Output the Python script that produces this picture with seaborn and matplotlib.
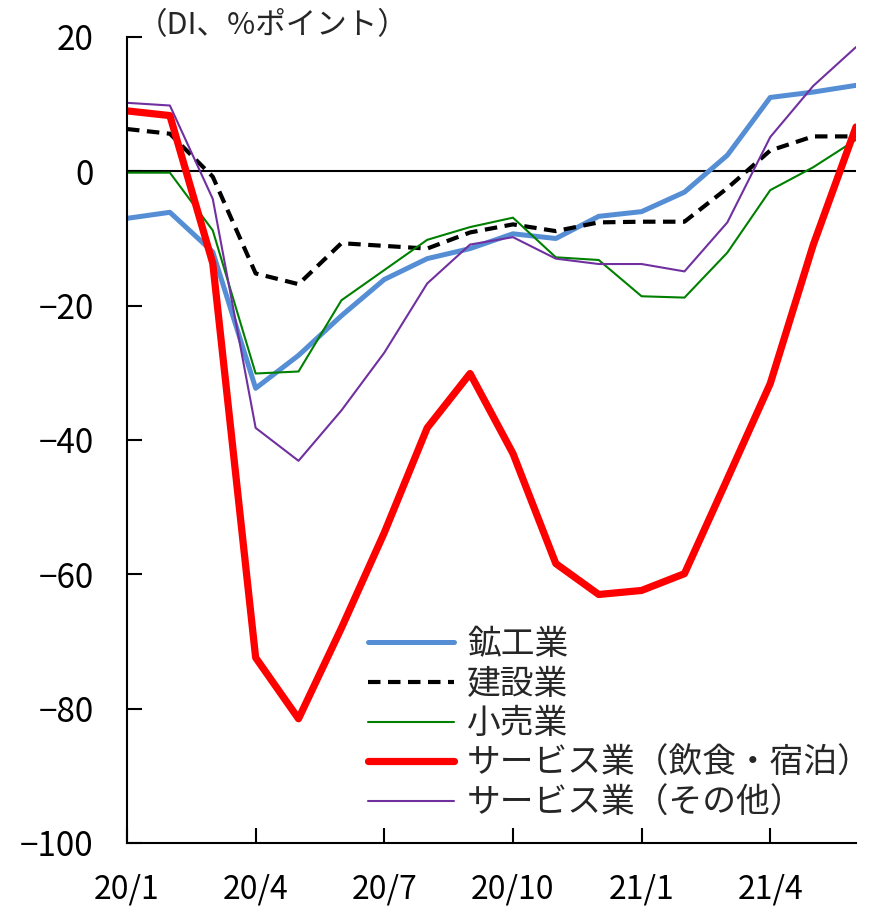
"""
Business conditions DI by industry, 20/1 - 21/6
"""
import matplotlib
matplotlib.use('Agg')
import matplotlib.pyplot as plt
import pandas as pd
import seaborn as sns

months = ['20/1', '20/2', '20/3', '20/4', '20/5', '20/6', '20/7', '20/8', '20/9',
          '20/10', '20/11', '20/12', '21/1', '21/2', '21/3', '21/4', '21/5', '21/6']
tick_labels = ['20/1', '20/4', '20/7', '20/10', '21/1', '21/4']

mining = [-7.0, -6.1, -12.0, -32.3, -27.4, -21.5, -16.1, -13.0, -11.5,
          -9.3, -10.0, -6.7, -6.0, -3.1, 2.4, 11.0, 11.8, 12.8]
construction = [6.3, 5.6, -0.8, -15.2, -16.8, -10.7, -11.1, -11.5, -9.1,
                -7.9, -8.9, -7.6, -7.5, -7.5, -2.5, 3.1, 5.2, 5.2]
retail = [-0.2, -0.2, -8.8, -30.1, -29.8, -19.2, -14.7, -10.2, -8.3,
          -6.9, -12.8, -13.2, -18.6, -18.8, -12.1, -2.8, 0.6, 4.7]
food_hotel = [9.0, 8.3, -13.7, -72.4, -81.5, -68.0, -53.8, -38.2, -30.1,
              -42.0, -58.4, -63.0, -62.4, -59.9, -45.8, -31.6, -11.0, 6.6]
services_other = [10.2, 9.8, -4.1, -38.2, -43.1, -35.6, -27.0, -16.7, -10.9,
                  -9.8, -13.0, -13.8, -13.8, -14.9, -7.6, 5.1, 12.7, 18.5]

series_names = ['鉱工業', '建設業', '小売業', 'サービス業（飲食・宿泊）', 'サービス業（その他）']
series_values = [mining, construction, retail, food_hotel, services_other]
colors = ['#558ED5', '#000000', '#008000', '#FF0000', '#7030A0']
widths = [3.6, 3.0, 1.5, 5.2, 1.5]

W, H, DPI = 875, 908, 100

if __name__ == '__main__':
    sns.set_style('white')
    plt.rcParams['font.family'] = ['Noto Sans CJK JP', 'DejaVu Sans']
    plt.rcParams['axes.unicode_minus'] = True

    df = pd.DataFrame({'month': range(len(months))})
    for name, values in zip(series_names, series_values):
        df[name] = values

    fig = plt.figure(figsize=(W / DPI, H / DPI), dpi=DPI)
    ax = fig.add_axes([127 / W, (H - 843) / H, 729 / W, 806 / H])

    ax.axhline(0, color='black', linewidth=1.5, zorder=1)
    for name, color, lw in zip(series_names, colors, widths):
        sns.lineplot(data=df, x='month', y=name, ax=ax, color=color, linewidth=lw, label=name)
        if name == '建設業':
            ax.lines[-1].set_dashes([3, 1.8])

    ax.set_xlim(0, 17)
    ax.set_ylim(-100, 20)
    ax.set_xticks([months.index(t) for t in tick_labels])
    ax.set_xticklabels(tick_labels)
    ax.set_yticks(range(-100, 21, 20))
    ax.set_xlabel('')
    ax.set_ylabel('')
    ax.tick_params(axis='both', direction='in', length=11, width=1.5,
                   left=True, bottom=True, colors='black')
    ax.tick_params(axis='y', labelsize=24, pad=24)
    ax.tick_params(axis='x', labelsize=23, pad=22)
    for side in ['top', 'right']:
        ax.spines[side].set_visible(False)
    for side in ['left', 'bottom']:
        ax.spines[side].set_color('black')
        ax.spines[side].set_linewidth(1.5)

    fig.text(137 / W, (H - 26) / H, '（DI、%ポイント）', fontsize=22, va='center', ha='left')

    ax.legend(loc='upper left', bbox_to_anchor=(368 / W, (H - 627) / H),
              bbox_transform=fig.transFigure, frameon=False, fontsize=24.3,
              borderpad=0, borderaxespad=0, handlelength=2.55, handletextpad=0.38,
              labelspacing=0.14)

    fig.savefig('out.png', dpi=DPI)
    plt.close(fig)
